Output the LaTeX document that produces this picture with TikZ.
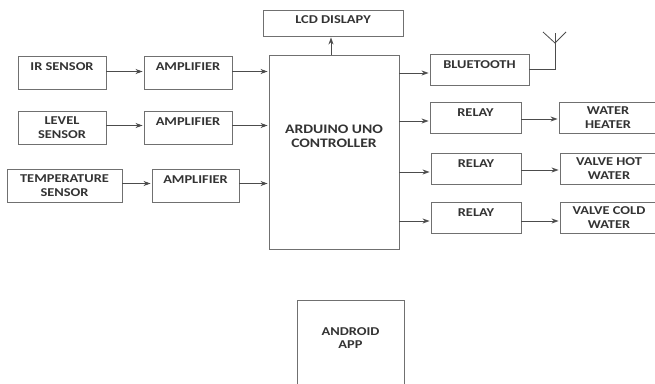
\documentclass[tikz,border=0pt]{standalone}
\usepackage{fontspec}
\setmainfont[FakeStretch=1.2]{Carlito}
\usetikzlibrary{arrows.meta, positioning, calc}
\definecolor{boxline}{HTML}{707070}
\definecolor{boxtext}{HTML}{333333}

\begin{document}
\begin{tikzpicture}[
  x=1pt, y=-1pt,
  box/.style 2 args={draw=boxline, line width=0.9pt, minimum width=#1pt, minimum height=#2pt,
                     inner sep=0pt, align=center, text=boxtext,
                     font=\fontsize{12}{13.5}\selectfont\bfseries},
  wire/.style={line width=0.8pt, color=black!70},
  sig/.style={-{Stealth[length=7pt,width=5pt]}, wire, shorten >=1pt}
]
  \useasboundingbox (0,0) rectangle (655,383);

  % ── input chain ─────────────────────────────────────────────────────────
  \node[box={88}{33}]  (ir)    at (62,72.5)    {IR SENSOR\\[-2pt]~};
  \node[box={88}{33}]  (amp1)  at (188,72.5)   {AMPLIFIER\\[-2pt]~};
  \node[box={88}{33}]  (level) at (62,127.5)   {LEVEL\\SENSOR};
  \node[box={88}{33}]  (amp2)  at (188,127.5)  {AMPLIFIER\\[-2pt]~};
  \node[box={115}{33}] (temp)  at (64.5,185.5) {TEMPERATURE\\SENSOR};
  \node[box={87}{33}]  (amp3)  at (195.5,185.5) {AMPLIFIER\\[-2pt]~};

  % ── controller ──────────────────────────────────────────────────────────
  \node[box={130}{194}, font=\fontsize{13}{14.5}\selectfont\bfseries] (ard) at (334,152)
    {ARDUINO UNO\\CONTROLLER\\[17pt]~};
  \node[box={140}{26}]  (lcd) at (333,23)  {LCD DISLAPY\\[-7.5pt]~};

  % ── output chain ────────────────────────────────────────────────────────
  \node[box={99}{31}] (bt)     at (479.5,69.5) {BLUETOOTH\\[-3pt]~};
  \node[box={91}{31}] (relay1) at (475.5,117.5) {RELAY\\[-3pt]~};
  \node[box={90}{31}] (relay2) at (476,168.5)  {RELAY\\[-3pt]~};
  \node[box={90}{31}] (relay3) at (476,217.5)  {RELAY\\[-3pt]~};
  \node[box={98}{31}] (heater) at (608,117.5)  {WATER\\HEATER};
  \node[box={98}{31}] (hot)    at (609,168.5)  {VALVE HOT\\WATER};
  \node[box={98}{31}] (cold)   at (609,217.5)  {VALVE COLD\\WATER};

  \node[box={107}{86}] (app) at (350.5,343) {ANDROID\\APP\\[-4pt]~};

  % ── tap points on the controller ────────────────────────────────────────
  \coordinate (o1) at (ard.east |- 0,73);
  \coordinate (o2) at (ard.east |- 0,121);
  \coordinate (o3) at (ard.east |- 0,172);
  \coordinate (o4) at (ard.east |- 0,221);
  \coordinate (up) at (331,0 |- ard.north);

  % ── arrows ──────────────────────────────────────────────────────────────
  \draw[sig] ([yshift=1pt]ir.east)    -- ([yshift=1pt]amp1.west);
  \draw[sig] ([yshift=1pt]amp1.east)  -- ([yshift=1pt]amp1.east -| ard.west);
  \draw[sig] ([yshift=2pt]level.east) -- ([yshift=2pt]amp2.west);
  \draw[sig] ([yshift=2pt]amp2.east)  -- ([yshift=2pt]amp2.east -| ard.west);
  \draw[sig] ([yshift=2pt]temp.east)  -- ([yshift=2pt]amp3.west);
  \draw[sig] ([yshift=2pt]amp3.east)  -- ([yshift=2pt]amp3.east -| ard.west);
  \draw[sig] (up) -- (up |- lcd.south);
  \draw[sig] (o1) -- (o1 -| bt.west);
  \draw[sig] (o2) -- (o2 -| relay1.west);
  \draw[sig] (o3) -- (o3 -| relay2.west);
  \draw[sig] (o4) -- (o4 -| relay3.west);
  \draw[sig] ([yshift=-1.5pt]relay1.east) -- ([yshift=-1.5pt]heater.west);
  \draw[sig] ([yshift=-1.5pt]relay2.east) -- ([yshift=-1.5pt]hot.west);
  \draw[sig] ([yshift=-3.5pt]relay3.east) -- ([yshift=-3.5pt]cold.west);

  % ── antenna ─────────────────────────────────────────────────────────────
  \coordinate (mast) at (555,33);
  \coordinate (fork) at (555,43);
  \coordinate (tipl) at (543,32);
  \coordinate (tipr) at (566,32);
  \draw[wire] (bt.east) -- (bt.east -| mast) -- (mast);
  \draw[wire] (tipl) -- (fork) -- (tipr);
\end{tikzpicture}
\end{document}
